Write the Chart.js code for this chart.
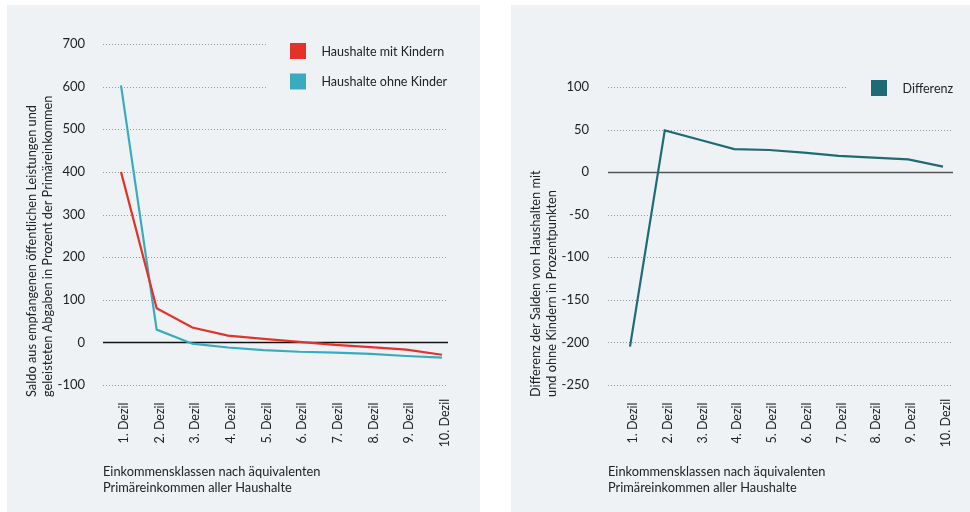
<!DOCTYPE html>
<html lang="de">
<head>
<meta charset="UTF-8">
<title>Saldo nach Dezilen</title>
<script src="https://cdn.jsdelivr.net/npm/chart.js@4.4.1/dist/chart.umd.min.js"></script>
<style>
    html, body { margin: 0; padding: 0; background: #fff; }
    body { width: 970px; height: 512px; position: relative; overflow: hidden; }
    .panel { position: absolute; top: 5px; height: 507px; background: #eef2f5; }
    #left { left: 7px; width: 473px; }
    #right { left: 511px; width: 459px; }
</style>
</head>
<body>
<div class="panel" id="left"><canvas id="saldo-canvas" width="473" height="507"></canvas></div>
<div class="panel" id="right"><canvas id="diff-canvas" width="459" height="507"></canvas></div>

<script>
// data
var dezile = ['1. Dezil', '2. Dezil', '3. Dezil', '4. Dezil', '5. Dezil',
              '6. Dezil', '7. Dezil', '8. Dezil', '9. Dezil', '10. Dezil'];
var mitKindern = [400, 80, 35, 16, 8, 1, -6, -11, -17, -29];
var ohneKinder = [603, 30, -3, -12, -18, -22, -24, -27, -32, -36];
var differenz = [-205, 49, 38, 27, 26, 23, 19, 17, 15, 6.5];

var saldoRange = [-100, 700, 100];
var diffRange = [-250, 100, 50];

var TEXT = '#222';
var FONT = 'Lato, "Noto Sans", sans-serif';

// grid, legend and titles are drawn here so they can sit where the original has them
function decoPlugin(o) {
    return {
        id: 'deco',
        beforeDatasetsDraw: function(chart) {
            var ctx = chart.ctx, y = chart.scales.y;
            ctx.save();
            y.ticks.forEach(function(t) {
                var py = Math.round(y.getPixelForValue(t.value)) + 0.5;
                ctx.beginPath();
                if (t.value === 0) {
                    ctx.setLineDash([]);
                    ctx.strokeStyle = o.zeroColor;
                    ctx.lineWidth = 1.5;
                } else {
                    ctx.setLineDash([1, 2]);
                    ctx.strokeStyle = '#9a9a9a';
                    ctx.lineWidth = 1;
                }
                ctx.moveTo(o.gridFrom, py);
                ctx.lineTo(t.value >= o.cutValue ? o.cutX : o.gridTo, py);
                ctx.stroke();
            });
            ctx.restore();
        },
        afterDraw: function(chart) {
            var ctx = chart.ctx, x = chart.scales.x;
            ctx.save();
            ctx.fillStyle = TEXT;

            // x tick labels, rotated
            ctx.font = '12.5px ' + FONT;
            ctx.textAlign = 'center';
            ctx.textBaseline = 'middle';
            dezile.forEach(function(lbl, i) {
                ctx.save();
                ctx.translate(x.getPixelForValue(i) + 3, 418);
                ctx.rotate(-Math.PI / 2);
                ctx.fillText(lbl, 0, 0);
                ctx.restore();
            });

            // y title
            ctx.font = '12.8px ' + FONT;
            ctx.textAlign = 'left';
            o.yTitle.forEach(function(line, i) {
                ctx.save();
                ctx.translate(24.7 + i * 16.3, 392);
                ctx.rotate(-Math.PI / 2);
                ctx.fillText(line, 0, 0);
                ctx.restore();
            });

            // x title
            o.xTitle.forEach(function(line, i) {
                ctx.fillText(line, o.xTitleX, 466.7 + i * 16.6);
            });

            // legend
            ctx.font = '12.5px ' + FONT;
            o.legend.forEach(function(item, i) {
                ctx.fillStyle = item.color;
                ctx.fillRect(o.legendX, o.legendY + i * 30.5, 16, 16);
                ctx.fillStyle = TEXT;
                ctx.fillText(item.text, o.legendX + 31.5, o.legendY + 8.5 + i * 30.5);
            });
            ctx.restore();
        }
    };
}

function lineSet(label, data, color) {
    return {
        label: label,
        data: data,
        borderColor: color,
        backgroundColor: color,
        borderWidth: 2.2,
        pointRadius: 0,
        tension: 0
    };
}

function makeChart(id, datasets, range, top, yWidth, tickPad, padRight, deco) {
    var ctx = document.getElementById(id).getContext('2d');
    return new Chart(ctx, {
        type: 'line',
        data: { labels: dezile, datasets: datasets },
        options: {
            responsive: false,
            animation: false,
            devicePixelRatio: 1,
            layout: { padding: { top: top, right: padRight, bottom: 127, left: 0 } },
            plugins: { legend: { display: false }, tooltip: { enabled: false } },
            scales: {
                x: { display: false, offset: false },
                y: {
                    min: range[0],
                    max: range[1],
                    grid: { display: false },
                    border: { display: false },
                    ticks: {
                        stepSize: range[2],
                        padding: tickPad,
                        color: TEXT,
                        font: { family: FONT, size: 13 }
                    },
                    afterFit: function(s) { s.width = yWidth; }
                }
            }
        },
        plugins: [decoPlugin(deco)]
    });
}

makeChart('saldo-canvas', [
    lineSet('Haushalte mit Kindern', mitKindern, '#e3322a'),
    lineSet('Haushalte ohne Kinder', ohneKinder, '#3aabbf')
], saldoRange, 39, 114, 28, 38, {
    gridFrom: 96, gridTo: 441, cutValue: 600, cutX: 261, zeroColor: '#111',
    yTitle: ['Saldo aus empfangenen öffentlichen Leistungen und',
             'geleisteten Abgaben in Prozent der Primäreinkommen'],
    xTitle: ['Einkommensklassen nach äquivalenten', 'Primäreinkommen aller Haushalte'],
    xTitleX: 96,
    legendX: 283, legendY: 38,
    legend: [{ text: 'Haushalte mit Kindern', color: '#e3322a' },
             { text: 'Haushalte ohne Kinder', color: '#3aabbf' }]
});

makeChart('diff-canvas', [
    lineSet('Differenz', differenz, '#1f6b74')
], diffRange, 82, 119, 33, 27, {
    gridFrom: 97, gridTo: 442, cutValue: 100, cutX: 337, zeroColor: '#555',
    yTitle: ['Differenz der Salden von Haushalten mit',
             'und ohne Kindern in Prozentpunkten'],
    xTitle: ['Einkommensklassen nach äquivalenten', 'Primäreinkommen aller Haushalte'],
    xTitleX: 97,
    legendX: 360, legendY: 75,
    legend: [{ text: 'Differenz', color: '#1f6b74' }]
});
</script>
</body>
</html>
